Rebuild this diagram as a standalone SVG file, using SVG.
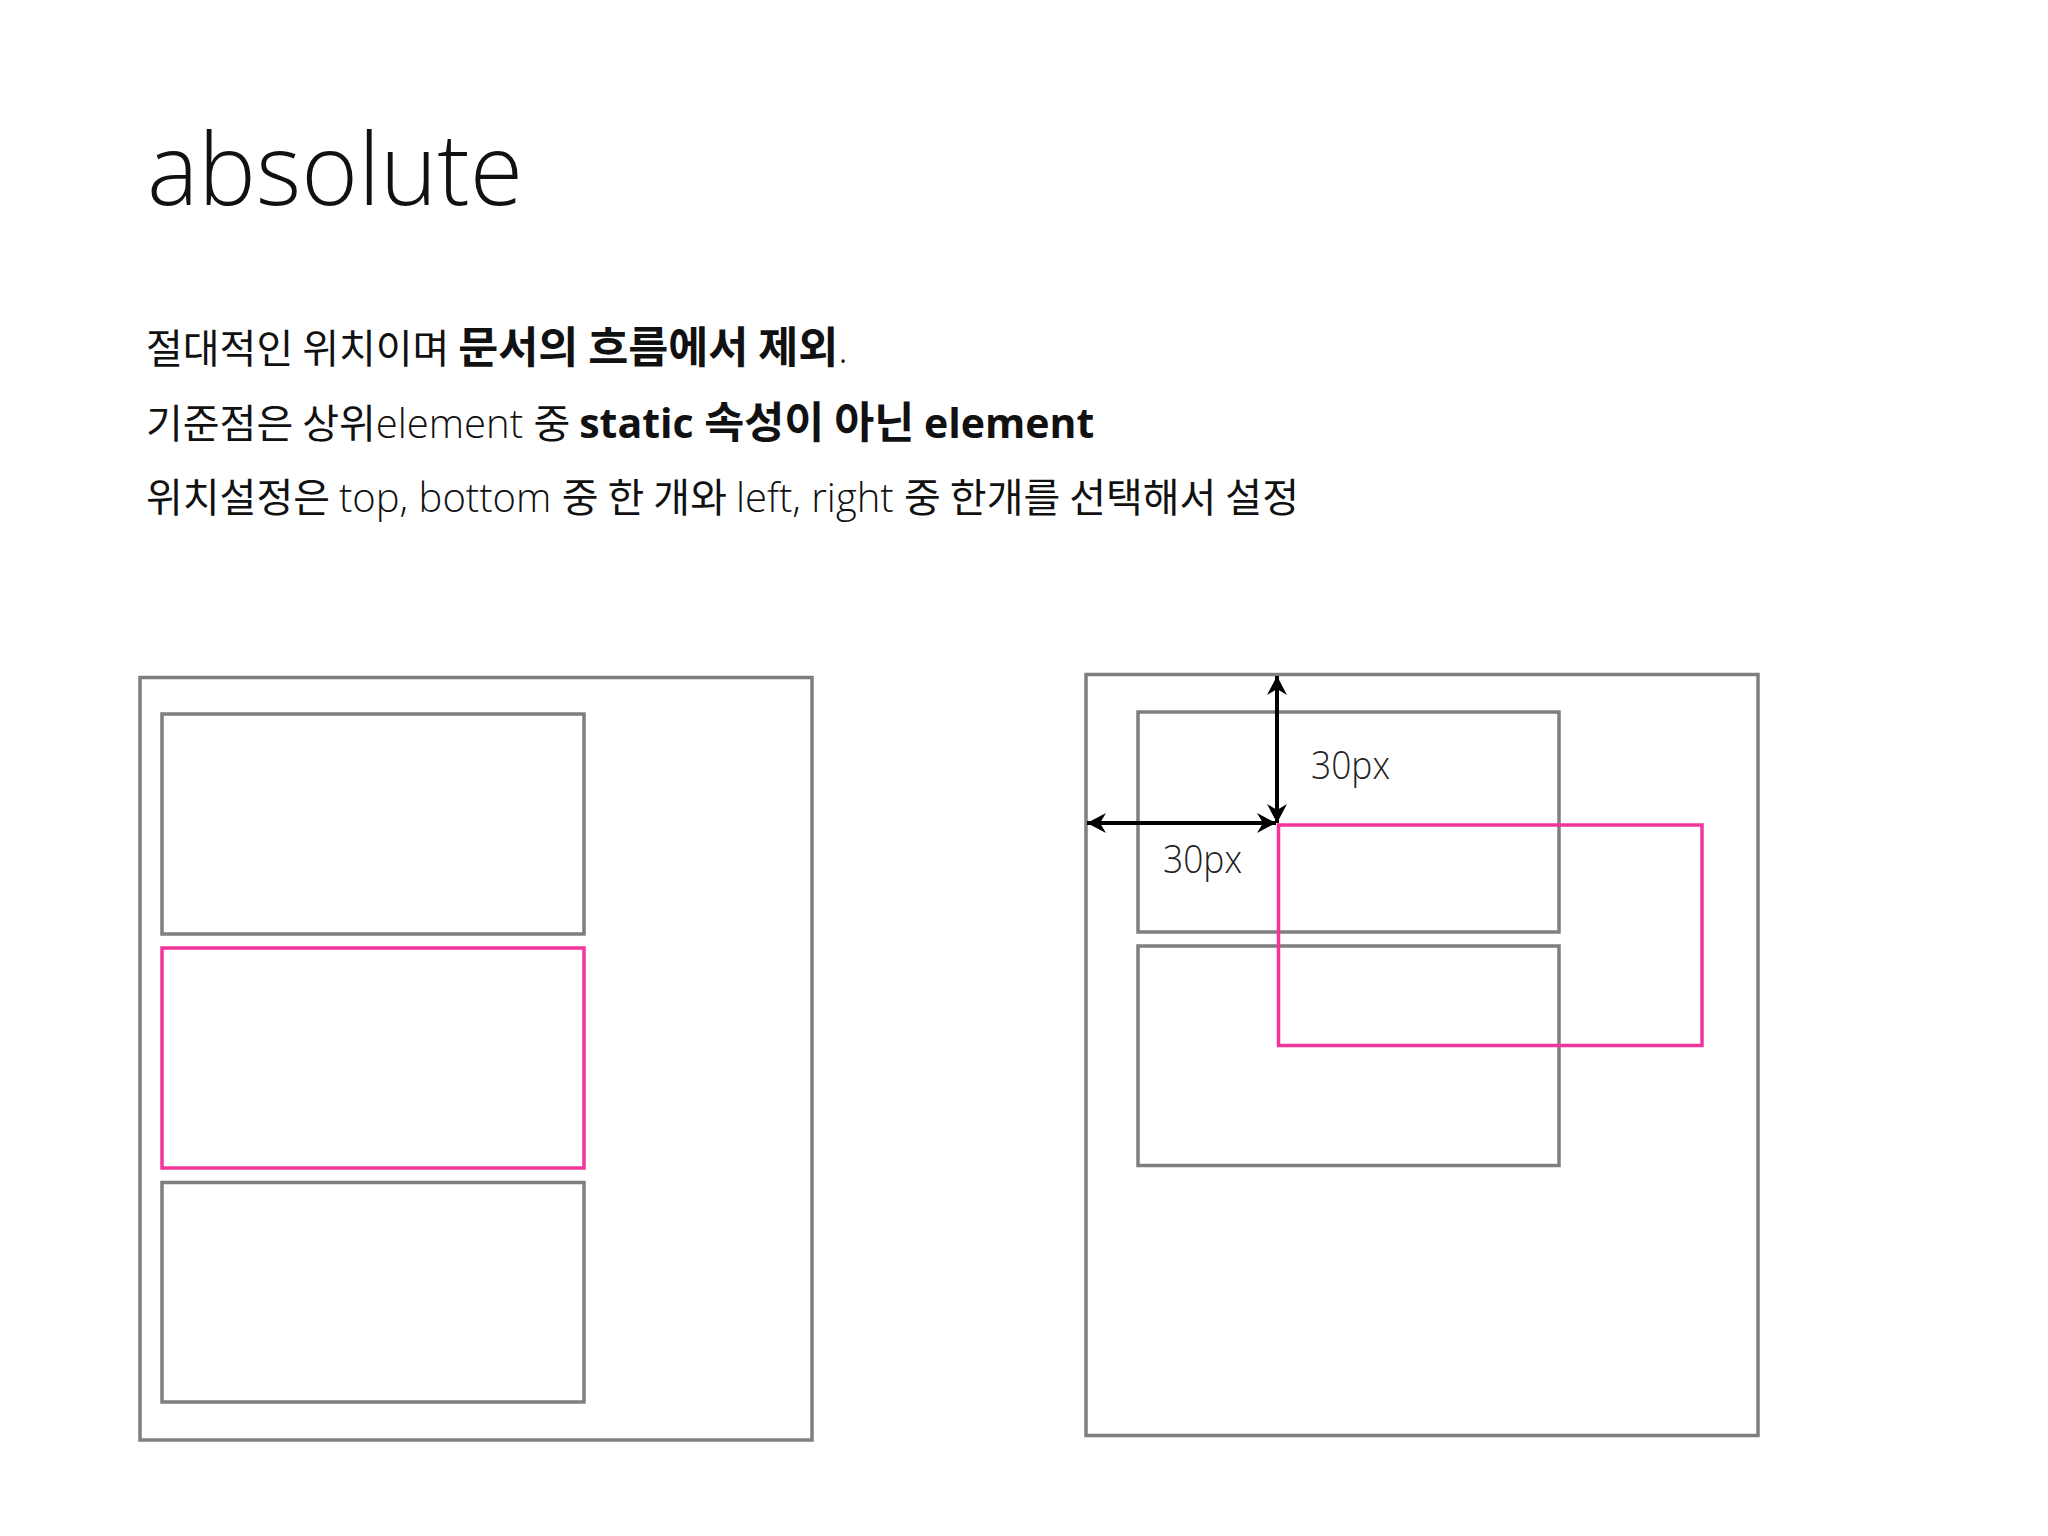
<svg xmlns="http://www.w3.org/2000/svg" width="2048" height="1536" viewBox="0 0 2048 1536">
<style>
.title{font-family:'Open Sans','Noto Sans',sans-serif;font-weight:300;font-size:100px;fill:#111}
.body{font-family:'Open Sans','Noto Sans CJK KR',sans-serif;font-size:39px;fill:#111}
.ko{font-family:'Noto Sans CJK KR',sans-serif;font-weight:400;font-size:40px}
.la{font-family:'Open Sans',sans-serif;font-weight:300;font-size:40px}
.ko.b{font-weight:700;font-size:43.5px}
.la.b{font-weight:700;font-size:41px}
.lab{font-family:'Open Sans',sans-serif;font-weight:300;font-size:38px;fill:#222}
.box{fill:none;stroke:#7f7f7f;stroke-width:3.5}
.pink{fill:none;stroke:#f2359a;stroke-width:3.5}
.arr{stroke:#000;stroke-width:4;fill:none}
</style>
<defs>
<marker id="ah" viewBox="-20 -11 22 22" markerWidth="22" markerHeight="22" refX="0" refY="0" orient="auto-start-reverse" markerUnits="userSpaceOnUse">
<path d="M0,0 L-19,-10 L-13,0 L-19,10 Z" fill="#000"/>
</marker>
</defs>
<rect width="2048" height="1536" fill="#fff"/>
<text class="title" x="147" y="205" textLength="376" lengthAdjust="spacingAndGlyphs">absolute</text>
<g id="text-lines">
<text class="body" x="146" y="363"><tspan class="ko">절대적인 위치이며 </tspan><tspan class="ko b">문서의 흐름에서 제외</tspan><tspan class="la">.</tspan></text>
<text class="body" x="146" y="438"><tspan class="ko">기준점은 상위</tspan><tspan class="la">element </tspan><tspan class="ko">중 </tspan><tspan class="la b">static </tspan><tspan class="ko b">속성이 아닌 </tspan><tspan class="la b">element</tspan></text>
<text class="body" x="146" y="512"><tspan class="ko">위치설정은 </tspan><tspan class="la">top, bottom </tspan><tspan class="ko">중 한 개와 </tspan><tspan class="la">left, right </tspan><tspan class="ko">중 한개를 선택해서 설정</tspan></text>
</g>
<g id="static-diagram">
<rect id="static-parent" class="box" x="140" y="677.5" width="672" height="762.5"/>
<rect id="static-box1" class="box" x="162" y="714" width="422" height="220"/>
<rect id="static-target" class="pink" x="162" y="948" width="422" height="220"/>
<rect id="static-box3" class="box" x="162" y="1182.5" width="422" height="219.5"/>
</g>
<g id="absolute-diagram">
<rect id="abs-parent" class="box" x="1086" y="674.5" width="672" height="761"/>
<rect id="abs-box1" class="box" x="1138" y="712" width="421" height="220"/>
<rect id="abs-box2" class="box" x="1138" y="946" width="421" height="219.5"/>
<rect id="abs-target" class="pink" x="1278.5" y="825" width="423.5" height="220.5"/>
</g>
<g id="connectors">
<line class="arr" x1="1277" y1="676" x2="1277" y2="823" marker-start="url(#ah)" marker-end="url(#ah)"/>
<line class="arr" x1="1087" y1="823" x2="1276" y2="823" marker-start="url(#ah)" marker-end="url(#ah)"/>
</g>
<text class="lab" x="1311" y="779" textLength="79" lengthAdjust="spacingAndGlyphs">30px</text>
<text class="lab" x="1163" y="873" textLength="79" lengthAdjust="spacingAndGlyphs">30px</text>
</svg>
